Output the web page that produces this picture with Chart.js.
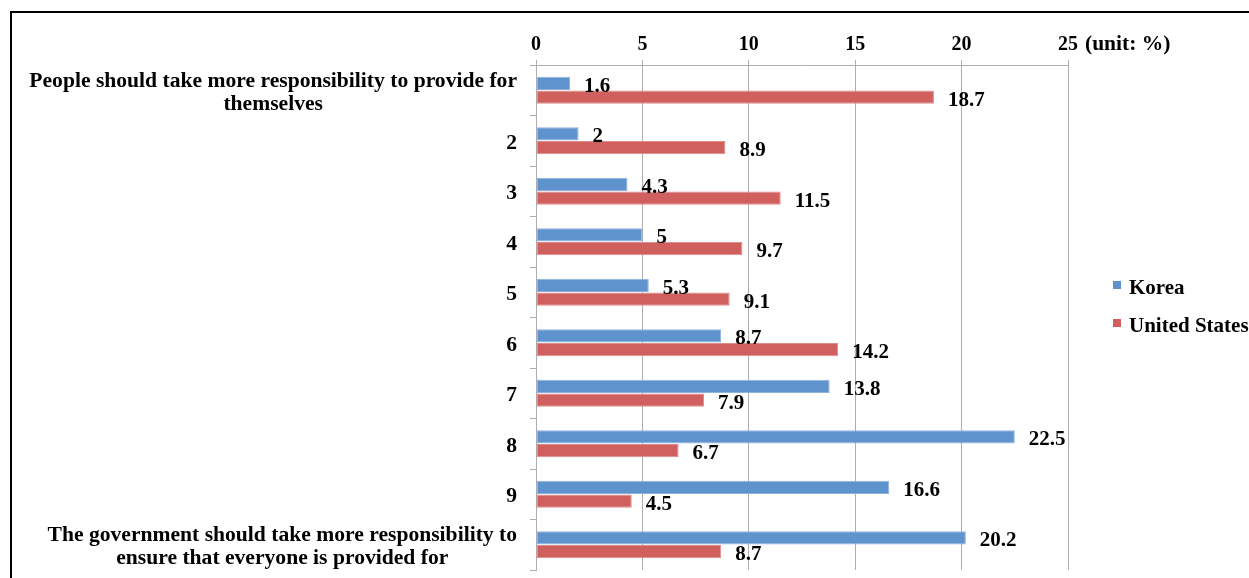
<!DOCTYPE html>
<html>
<head>
<meta charset="utf-8">
<script src="https://cdn.jsdelivr.net/npm/chart.js@4/dist/chart.umd.min.js"></script>
<style>
  html, body { margin: 0; padding: 0; background: #ffffff; }
  #wrap { width: 1249px; height: 578px; }
</style>
</head>
<body>
<div id="wrap"><canvas id="c" width="1249" height="578"></canvas></div>
<script>
// Survey scale: 1 = individuals responsible ... 10 = government responsible
const categories = [
  ["People should take more responsibility to provide for", "themselves"],
  "2", "3", "4", "5", "6", "7", "8", "9",
  ["The government should take more responsibility to", "ensure that everyone is provided for"]
];
const koreaValues = [1.6, 2, 4.3, 5, 5.3, 8.7, 13.8, 22.5, 16.6, 20.2];
const usValues = [18.7, 8.9, 11.5, 9.7, 9.1, 14.2, 7.9, 6.7, 4.5, 8.7];
const seriesNames = ["Korea", "United States"];
const xTicks = [0, 5, 10, 15, 20, 25];
const unitLabel = "(unit: %)";

const FONT_FAMILY = "'Liberation Serif', 'Times New Roman', serif";
const BOLD = (size) => "bold " + size + "px " + FONT_FAMILY;
const GRID = "#ADADAD";

// Outer frame lines, category labels, data labels, unit text and legend
const decorations = {
  id: "decorations",
  beforeDraw(chart) {
    const ctx = chart.ctx;
    ctx.save();
    ctx.fillStyle = "#ffffff";
    ctx.fillRect(0, 0, chart.width, chart.height);
    ctx.strokeStyle = "#000000";
    ctx.lineWidth = 2;
    ctx.beginPath();
    ctx.moveTo(11, chart.height);
    ctx.lineTo(11, 12);
    ctx.lineTo(chart.width, 12);
    ctx.stroke();
    ctx.restore();
  },
  afterDraw(chart) {
    const ctx = chart.ctx;
    const yScale = chart.scales.y;
    const xScale = chart.scales.x;
    ctx.save();
    ctx.fillStyle = "#000000";
    ctx.textBaseline = "middle";

    // category labels: block right-aligned, lines centred within the block
    ctx.font = BOLD(21.6);
    const labelRight = yScale.right - 19;
    const lineH = 23;
    categories.forEach((lab, i) => {
      const lines = Array.isArray(lab) ? lab : [lab];
      const y = yScale.getPixelForValue(i);
      const maxW = Math.max(...lines.map(l => ctx.measureText(l).width));
      const cx = labelRight - maxW / 2;
      ctx.textAlign = "center";
      lines.forEach((l, k) => {
        const ly = y + (k - (lines.length - 1) / 2) * lineH + 2.5;
        ctx.fillText(l, cx, ly);
      });
    });

    // value labels right of each bar
    ctx.font = BOLD(21);
    ctx.textAlign = "left";
    chart.data.datasets.forEach((ds, di) => {
      const meta = chart.getDatasetMeta(di);
      meta.data.forEach((bar, i) => {
        ctx.fillText(String(ds.data[i]), bar.x + 14, bar.y + 3);
      });
    });

    // unit note beside the last x tick
    ctx.font = BOLD(21.5);
    ctx.fillText(unitLabel, xScale.right + 17, 44);

    // legend
    ctx.font = BOLD(21);
    const lx = 1113;
    const ly0 = 285, gap = 38;
    chart.data.datasets.forEach((ds, di) => {
      const yy = ly0 + di * gap;
      ctx.fillStyle = ds.backgroundColor;
      ctx.fillRect(lx, yy - 4, 8, 8);
      ctx.fillStyle = "#000000";
      ctx.fillText(ds.label, lx + 16, yy + 4);
    });
    ctx.restore();
  }
};

new Chart(document.getElementById("c"), {
  type: "bar",
  data: {
    labels: categories,
    datasets: [
      {
        label: seriesNames[0],
        data: koreaValues,
        backgroundColor: "#5F93CE",
        borderColor: "#8FB3DE",
        borderWidth: 1,
        borderSkipped: false,
        categoryPercentage: 0.55,
        barPercentage: 0.96
      },
      {
        label: seriesNames[1],
        data: usValues,
        backgroundColor: "#D0605E",
        borderColor: "#DE8C8A",
        borderWidth: 1,
        borderSkipped: false,
        categoryPercentage: 0.55,
        barPercentage: 0.96
      }
    ]
  },
  options: {
    indexAxis: "y",
    responsive: false,
    animation: false,
    layout: { padding: { left: 0, right: 181, top: 0, bottom: 8 } },
    plugins: {
      legend: { display: false },
      tooltip: { enabled: false }
    },
    scales: {
      x: {
        type: "linear",
        position: "top",
        min: xTicks[0],
        max: xTicks[xTicks.length - 1],
        afterBuildTicks: (s) => { s.ticks = xTicks.map(v => ({ value: v })); },
        afterFit: (s) => { s.height = 65; },
        ticks: {
          color: "#000000",
          font: { family: FONT_FAMILY, size: 20, weight: "bold" },
          padding: 3
        },
        grid: { color: GRID, lineWidth: 1, tickLength: 5 },
        border: { color: GRID, width: 1 }
      },
      y: {
        type: "category",
        offset: true,
        afterFit: (s) => { s.width = 536; },
        ticks: { display: false },
        grid: {
          color: GRID,
          drawOnChartArea: false,
          offset: true,
          tickLength: 6
        },
        border: { color: GRID, width: 1 }
      }
    }
  },
  plugins: [decorations]
});
</script>
</body>
</html>
